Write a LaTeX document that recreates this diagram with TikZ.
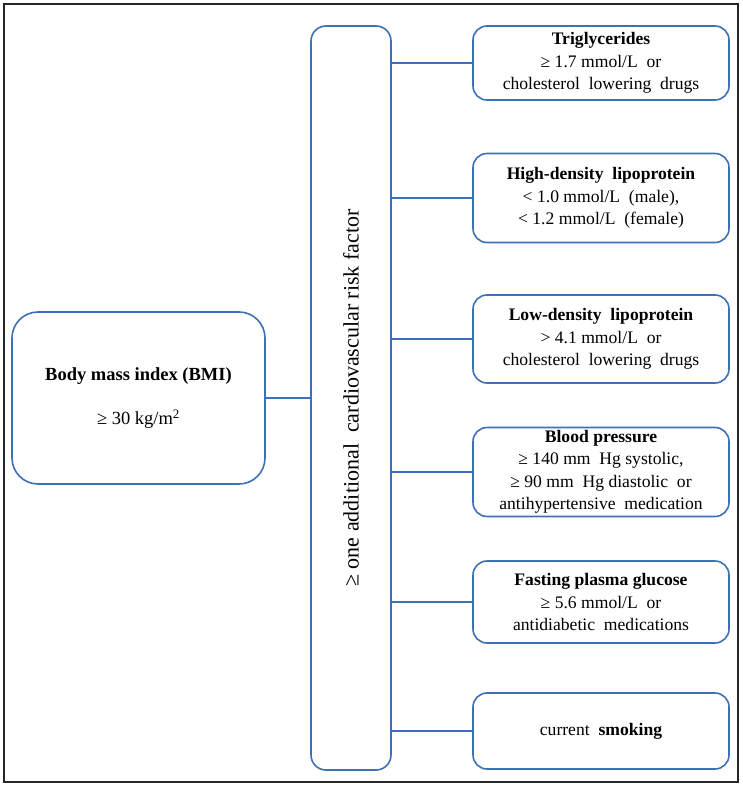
\documentclass[tikz,border=0pt]{standalone}
\usepackage{fontspec}
\setmainfont{Liberation Serif}
\definecolor{boxblue}{RGB}{62,112,182}
\begin{document}
\begin{tikzpicture}[x=1pt,y=-1pt,
  box/.style={draw=boxblue,line width=1.6pt,rounded corners=14pt,align=center,inner sep=0pt},
  conn/.style={draw=boxblue,line width=1.6pt},
  txt/.style={font=\fontsize{17.6}{22.5}\selectfont}]
\useasboundingbox (0,0) rectangle (743,786);
\draw[line width=1.2pt,black!85] (4,4) rectangle (738,782);
\node[box,minimum width=80pt,minimum height=744pt,rounded corners=15pt] (central) at (351,398) {};
\node[rotate=90,font=\fontsize{22}{24}\selectfont] (lab) at (central.center) {≥ one additional\ \ cardiovascular risk factor};
\node[box,minimum width=253pt,minimum height=172pt,rounded corners=26pt,font=\fontsize{18.5}{24}\selectfont] (bmi) at (138.5,398) {\textbf{Body mass index (BMI)}\\[20pt]≥ 30 kg/m\textsuperscript{2}};
\node[box,txt,minimum width=256pt,minimum height=74pt] (trig) at (601,63) {\textbf{Triglycerides}\\≥ 1.7 mmol/L\ \ or\\cholesterol\ \ lowering\ \ drugs};
\node[box,txt,minimum width=256pt,minimum height=89pt] (hdl) at (601,198) {\textbf{High-density\ \ lipoprotein}\\< 1.0 mmol/L\ \ (male),\\< 1.2 mmol/L\ \ (female)};
\node[box,txt,minimum width=256pt,minimum height=88pt] (ldl) at (601,339) {\textbf{Low-density\ \ lipoprotein}\\> 4.1 mmol/L\ \ or\\cholesterol\ \ lowering\ \ drugs};
\node[box,txt,minimum width=256pt,minimum height=89pt] (bp) at (601,472) {\textbf{Blood pressure}\\≥ 140 mm\ \ Hg systolic,\\≥ 90 mm\ \ Hg diastolic\ \ or\\antihypertensive\ \ medication};
\node[box,txt,minimum width=256pt,minimum height=82pt] (fpg) at (601,602) {\textbf{Fasting plasma glucose}\\≥ 5.6 mmol/L\ \ or\\antidiabetic\ \ medications};
\node[box,txt,minimum width=256pt,minimum height=76pt] (smk) at (601,731) {current\ \ \textbf{smoking}};
\draw[conn] (bmi.east) -- (bmi.east -| central.west);
\foreach \n in {trig,hdl,ldl,bp,fpg,smk}
  \draw[conn] (\n.west -| central.east) -- (\n.west);
\end{tikzpicture}
\end{document}
